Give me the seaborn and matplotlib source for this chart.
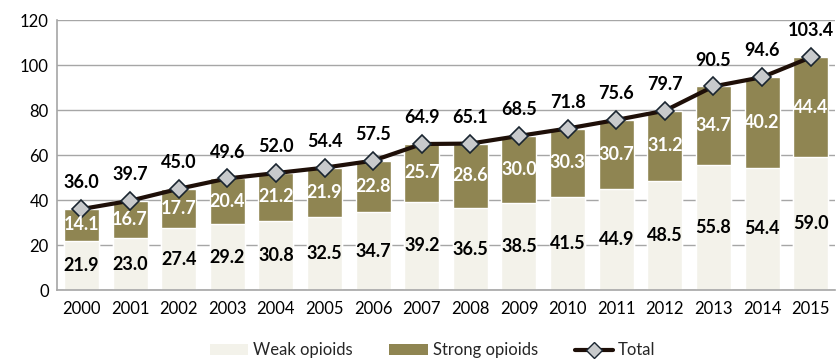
import matplotlib
matplotlib.use("Agg")
import matplotlib.pyplot as plt
import seaborn as sns
import pandas as pd
import numpy as np
from matplotlib.patches import Patch
from matplotlib.lines import Line2D

years = [str(y) for y in range(2000, 2016)]
weak = [21.9, 23.0, 27.4, 29.2, 30.8, 32.5, 34.7, 39.2, 36.5, 38.5, 41.5, 44.9, 48.5, 55.8, 54.4, 59.0]
strong = [14.1, 16.7, 17.7, 20.4, 21.2, 21.9, 22.8, 25.7, 28.6, 30.0, 30.3, 30.7, 31.2, 34.7, 40.2, 44.4]
total = [36.0, 39.7, 45.0, 49.6, 52.0, 54.4, 57.5, 64.9, 65.1, 68.5, 71.8, 75.6, 79.7, 90.5, 94.6, 103.4]

weak_c = "#F3F2EA"
strong_c = "#8F8552"
line_c = "#1E0F08"
grid_c = "#A6A6A6"

sns.set_theme(style="white")
plt.rcParams['font.family'] = ['Lato', 'DejaVu Sans']

df = pd.DataFrame({"year": years, "weak": weak, "strong": strong, "total": total})
df["stack"] = df["weak"] + df["strong"]

fig, ax = plt.subplots(figsize=(8.4, 3.64), dpi=100)
fig.subplots_adjust(left=0.068, right=0.994, top=0.945, bottom=0.203)

sns.barplot(data=df, x="year", y="stack", color=strong_c, width=0.72, saturation=1, ax=ax, zorder=2)
sns.barplot(data=df, x="year", y="weak", color=weak_c, width=0.72, saturation=1, ax=ax, zorder=2)

xs = np.arange(len(years))
ax.plot(xs, df["total"], color=line_c, lw=3, zorder=4,
        marker="D", markersize=9, markerfacecolor="#C8CACC", markeredgecolor="#1A2530", markeredgewidth=1.2)

for i in range(len(years)):
    ax.text(i, weak[i] / 2, f"{weak[i]:.1f}", ha="center", va="center", fontsize=13, fontweight="bold", color="black", zorder=5)
    ax.text(i, weak[i] + strong[i] / 2, f"{strong[i]:.1f}", ha="center", va="center", fontsize=13, fontweight="bold", color="white", zorder=5)
    ax.annotate(f"{total[i]:.1f}", (i, total[i]), xytext=(0, 19), textcoords="offset points",
                ha="center", va="center", fontsize=13, fontweight="bold", color="black", zorder=5)

ax.set_ylim(0, 120)
ax.set_yticks(range(0, 121, 20))
ax.set_xlim(-0.5, len(years) - 0.5)
ax.yaxis.grid(True, color=grid_c, lw=1)
ax.set_axisbelow(True)
ax.set_xlabel("")
ax.set_ylabel("")
for s in ["top", "right"]:
    ax.spines[s].set_visible(False)
for s in ["left", "bottom"]:
    ax.spines[s].set_color(grid_c)
    ax.spines[s].set_linewidth(1.2)
ax.tick_params(axis="y", length=0, labelsize=12, pad=6, colors="black")
ax.tick_params(axis="x", which="major", length=0, labelsize=12, pad=8, colors="black")
ax.set_xticks(np.arange(-0.5, len(years), 1.0), minor=True)
ax.tick_params(axis="x", which="minor", length=5, color=grid_c, width=1.2)

handles = [Patch(facecolor=weak_c, edgecolor="none", label="Weak opioids"),
           Patch(facecolor=strong_c, edgecolor="none", label="Strong opioids"),
           Line2D([0], [0], color=line_c, lw=3, marker="D", markersize=8,
                  markerfacecolor="#C8CACC", markeredgecolor="#1A2530", label="Total")]
fig.legend(handles=handles, loc="lower center", bbox_to_anchor=(0.515, -0.025), ncol=3, frameon=False,
           fontsize=12, handlelength=2.3, handleheight=0.6, columnspacing=2.2, handletextpad=0.3)

fig.savefig("out.png", dpi=100)
